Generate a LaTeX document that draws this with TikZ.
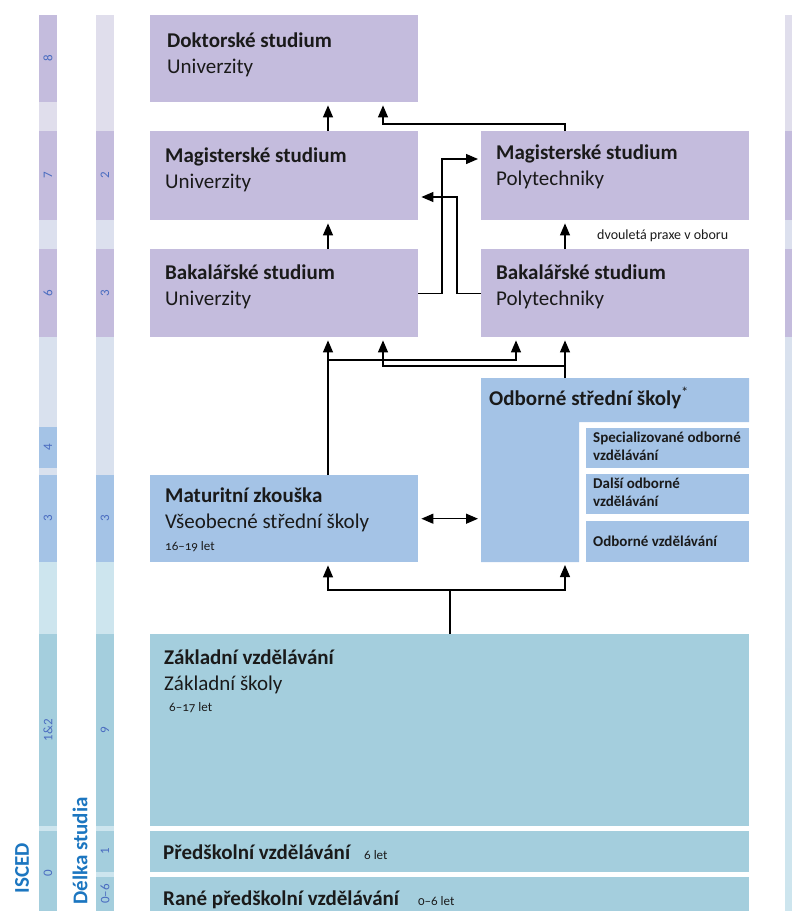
\documentclass[tikz,border=0pt]{standalone}
\usepackage{fontspec}
\setmainfont{Carlito}
\newfontfamily\agefont[Numbers=OldStyle,Ligatures=TeX]{Carlito}
\usetikzlibrary{positioning,arrows.meta}

\definecolor{lila}{HTML}{C4BCDD}
\definecolor{lilaLt}{HTML}{E0DEEC}
\definecolor{lilaGap}{HTML}{DCE0EE}
\definecolor{modra}{HTML}{A4C3E6}
\definecolor{modraLt}{HTML}{D9E1EE}
\definecolor{tyrkys}{HTML}{A4CEDD}
\definecolor{tyrkysLt}{HTML}{CDE5EE}
\definecolor{cislo}{HTML}{4A6CC0}
\definecolor{nadpis}{HTML}{1C76C0}
\definecolor{pismo}{HTML}{1A1A1A}

\begin{document}
\begin{tikzpicture}[x=1pt,y=-1pt,
        box/.style = {fill=#1, anchor=north west, inner sep=0pt, minimum width=268pt},
        ttl/.style = {anchor=north west, align=left, inner sep=0pt, text=pismo, font=\fontsize{21}{26}\selectfont},
        subttl/.style = {anchor=north west, align=left, inner sep=0pt, text=pismo, font=\bfseries\fontsize{15}{18}\selectfont},
        num/.style = {rotate=90, text=cislo, inner sep=0pt, font=\fontsize{13}{13}\selectfont},
        head/.style = {rotate=90, text=nadpis, inner sep=0pt, font=\bfseries\fontsize{21}{21}\selectfont},
        wire/.style = {line width=1.3pt},
        conn/.style = {wire, -{Triangle[length=12pt,width=10pt]}, shorten >=3pt},
        both/.style = {wire, {Triangle[length=12pt,width=10pt]}-{Triangle[length=12pt,width=10pt]}, shorten >=3pt, shorten <=3pt},]
        \newcommand{\vek}[1]{{\agefont\fontsize{13}{13}\selectfont #1}}
        \useasboundingbox (0,0) rectangle (792,911);

        % ISCED column
        \foreach \t/\b/\c/\l [count=\i] in {15/102/lila/8, 102/131/lilaLt/, 131/220/lila/7, 220/249/lilaGap/,
            249/337/lila/6, 337/427/modraLt/, 427/468/modra/4, 468/475/modraLt/, 475/562/modra/3,
            562/634/tyrkysLt/, 634/826/tyrkys/1\&2, 826/831/tyrkysLt/, 831/911/tyrkys/} {
            \fill[\c] (39,\t) rectangle (57,\b);
            \node[num] (isc\i) at (48,{(\t+\b)/2}) {\l};
        }
        \node[num] (isc0) at (48,873) {0};

        % length of study column
        \foreach \t/\b/\c/\l [count=\i] in {15/131/lilaLt/, 131/220/lila/2, 220/249/lilaGap/, 249/337/lila/3,
            337/475/modraLt/, 475/562/modra/3, 562/634/tyrkysLt/, 634/826/tyrkys/9, 826/831/tyrkysLt/,
            831/872/tyrkys/1, 872/877/tyrkysLt/, 877/911/tyrkys/0–6} {
            \fill[\c] (96,\t) rectangle (114,\b);
            \node[num] (del\i) at (105,{(\t+\b)/2}) {\l};
        }

        % right edge strip
        \fill[lilaLt] (785,15) rectangle (792,131);
        \fill[lila] (785,131) rectangle (792,220);
        \fill[lilaGap] (785,220) rectangle (792,249);
        \fill[lila] (785,249) rectangle (792,337);
        \shade[top color=modraLt, bottom color=tyrkysLt] (785,337) rectangle (792,911);

        \node[head] (isced) at (22,868) {ISCED};
        \node[head] (delka) at (80,851) {Délka studia};

        % boxes
        \node[box=lila, minimum height=87pt] (dok) at (150,15) {};
        \node[box=lila, minimum height=89pt] (magU) at (150,131) {};
        \node[box=lila, minimum height=89pt] (magP) at (481,131) {};
        \node[box=lila, minimum height=88pt] (bakU) at (150,249) {};
        \node[box=lila, minimum height=88pt] (bakP) at (481,249) {};
        \node[box=modra, minimum height=87pt] (mat) at (150,475) {};
        \node[box=tyrkys, minimum width=599pt, minimum height=192pt] (zak) at (150,634) {};
        \node[box=tyrkys, minimum width=599pt, minimum height=41pt] (pre) at (150,831) {};
        \node[box=tyrkys, minimum width=599pt, minimum height=34pt] (rane) at (150,877) {};

        \fill[modra] (481,378) -| (749,422) -| (579,562) -| (481,378) -- cycle;
        \coordinate (osk) at (481,378);
        \coordinate (oskB) at (481,562);
        \node[box=modra, minimum width=163pt, minimum height=40pt] (spec) at (586,428) {};
        \node[box=modra, minimum width=163pt, minimum height=40pt] (dalsi) at (586,474) {};
        \node[box=modra, minimum width=163pt, minimum height=41pt] (odb) at (586,521) {};

        % texts
        \node[ttl] (dokT) at ([xshift=17pt,yshift=-18pt]dok.north west) {\textbf{Doktorské studium}\\Univerzity};
        \node[ttl] (magUT) at ([xshift=15pt,yshift=-17pt]magU.north west) {\textbf{Magisterské studium}\\Univerzity};
        \node[ttl] (magPT) at ([xshift=15pt,yshift=-14pt]magP.north west) {\textbf{Magisterské studium}\\Polytechniky};
        \node[ttl] (bakUT) at ([xshift=15pt,yshift=-16pt]bakU.north west) {\textbf{Bakalářské studium}\\Univerzity};
        \node[ttl] (bakPT) at ([xshift=15pt,yshift=-16pt]bakP.north west) {\textbf{Bakalářské studium}\\Polytechniky};
        \node[ttl] (oskT) at ([xshift=8pt,yshift=-9pt]osk) {\textbf{Odborné střední školy}\textsuperscript{*}};
        \node[ttl] (matT) at ([xshift=15pt,yshift=-13pt]mat.north west) {\textbf{Maturitní zkouška}\\Všeobecné střední školy\\[-4pt]\vek{16–19 let}};
        \node[ttl] (zakT) at ([xshift=14pt,yshift=-16pt]zak.north west) {\textbf{Základní vzdělávání}\\Základní školy\\[-5pt]\hspace{5pt}\vek{6–17 let}};
        \node[ttl, anchor=west] (preT) at ([xshift=13pt]pre.west) {\textbf{Předškolní vzdělávání}\hspace{13pt}\vek{6 let}};
        \node[ttl, anchor=base west] (raneT) at ([xshift=13pt,yshift=6pt]rane.south west) {\textbf{Rané předškolní vzdělávání}\hspace{18pt}\vek{0–6 let}};
        \node[subttl] (specT) at ([xshift=7pt,yshift=-4pt]spec.north west) {Specializované odborné\\vzdělávání};
        \node[subttl] (dalsiT) at ([xshift=7pt,yshift=-4pt]dalsi.north west) {Další odborné\\vzdělávání};
        \node[subttl, anchor=west] (odbT) at ([xshift=7pt]odb.west) {Odborné vzdělávání};
        \node[anchor=base west, inner sep=0pt, text=pismo, font=\fontsize{14}{14}\selectfont] (praxe) at (597,239) {dvouletá praxe v oboru};

        % connectors
        \coordinate (cA) at (328,0);
        \coordinate (cB) at (383,0);
        \coordinate (cC) at (442,0);
        \coordinate (cD) at (457,0);
        \coordinate (cE) at (516,0);
        \coordinate (cF) at (565,0);
        \coordinate (cG) at (450,0);
        \coordinate (r0) at (0,124);
        \coordinate (r1) at (0,159);
        \coordinate (r2) at (0,197);
        \coordinate (r3) at (0,360);
        \coordinate (r4) at (0,366);
        \coordinate (r5) at (0,590);

        \draw[conn] (cA |- magU.north) -- (cA |- dok.south);
        \draw[conn] (cF |- magP.north) |- (cB |- r0) -- (cB |- dok.south);
        \draw[conn] (cA |- bakU.north) -- (cA |- magU.south);
        \draw[conn] (cF |- bakP.north) -- (cF |- magP.south);
        \draw[conn] (bakU.east) -| (cC |- r1) -- (magP.west |- r1);
        \draw[conn] (bakP.west) -| (cD |- r2) -- (magU.east |- r2);
        \draw[conn] (cA |- mat.north) -- (cA |- bakU.south);
        \draw[conn] (cA |- r3) -| (cE |- bakP.south);
        \draw[conn] (cF |- osk) -- (cF |- bakP.south);
        \draw[conn] (cF |- r4) -| (cB |- bakU.south);
        \draw[both] (mat.east) -- (mat.east -| osk);
        \draw[conn] (cG |- zak.north) |- (cA |- r5) -- (cA |- mat.south);
        \draw[conn] (cG |- r5) -| (cF |- oskB);
\end{tikzpicture}
\end{document}
